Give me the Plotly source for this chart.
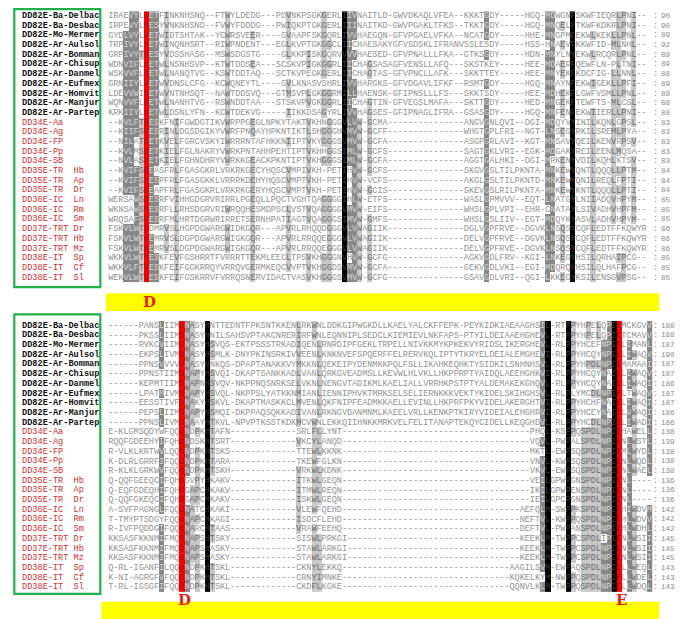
import plotly.graph_objects as go

# ---------------- data ----------------
names = ["DD82E-Ba-Delbac", "DD82E-Ba-Desbac", "DD82E-Mo-Mermer", "DD82E-Ar-Aulsol",
         "DD82E-Ar-Bomman", "DD82E-Ar-Chisup", "DD82E-Ar-Danmel", "DD82E-Ar-Eufmex",
         "DD82E-Ar-Homvit", "DD82E-Ar-Manjur", "DD82E-Ar-Partep",
         "DD34E-Aa", "DD34E-Ag", "DD34E-FP", "DD34E-Pp", "DD34E-SB",
         "DD35E-TR  Hb", "DD35E-TR  Ap", "DD35E-TR  Dr",
         "DD36E-IC  Ln", "DD36E-IC  Rm", "DD36E-IC  Sm",
         "DD37E-TRT Dr", "DD37E-TRT Hb", "DD37E-TRT Mz",
         "DD38E-IT  Sp", "DD38E-IT  Cf", "DD38E-IT  Sl"]
n_dd82e = 11  # first rows (DD82E group) printed in black

top_seqs = [
    "IRAEVYLDETFINKNHSNQ--FTWYLDEDG---PDVNKPSGKGERLIIVNAITLD-GWVDKAQLVFEA--KKKTGDY-----HGQ-MDWGNFSKWFIEQRLPNI--",
    "IRPEVYLDESYVNKNHSND--FVWYFDDDG---PWIQKPTGKGERLIIINAITKD-GWVPGAKLTFKS--TKKTGDY-----HGQ-MNQELFTKWFKDKRLPNI--",
    "GYDLVYLDETWIDTSHTAK--YCWRSVEER----GVAAPFSKGQRLIVVHAEGQN-GFVPGAELVFKA--NCATGDY-----HHE-MNGPMFEKWLKEKLLPNL--",
    "TRPIVYLDETWINQNHSRT--RIWPNDENT---EGLKVPTGKGGCLIICHAESAKYGFVSDSKLIFRANVSSLESDY-----HSS-HNAEVFKKWFID-MLNHL--",
    "GRPIVYTDESYVDSSHASG--MSWSDGSTG----GLKKPISKGQRVVVVHAESED-GFVPNALLLFKA--GTKSGDY-----HDN-MNYLNYEKWLRCQRLPNL--",
    "WDNVIFLDETWLNSNHSVP--KTWTDDSEA---SCSKVPIGKGGRLIICHAGSASAGFVENSLLAFQ---SKSTKEY-----HEE-MDAERFQEWFLN-PLTNI--",
    "WSKVVFLDETWLNANQTVG--KSWTDDTAQ---SCTKVPEGKGERLIICHAGTAS-GFVPNCLLAFK---SKKTTEY-----HEE-MNYEKFKDCFIG-LLNNL--",
    "GRNIIYLDETWVDNSLCFG--KCWQNEYTL----GVLKNASVSHRLIVVHARGKS-GFVDGAVLIFKF--RSMTGDY-----HGQ-MNAYNFEKWIGEKLLPFI--",
    "LDEVVWIDETWVNTNHSQT--NAWTDDSVQ---GTMSVPLGKGGRMILLHAENSK-GFIPNSLLLFS---SKKTSDY-----HEE-MDHEKFLGWFVSMLLPNL--",
    "WQNVVFLDETWLNANHTVG--RSWNDDTAA---STSKVPVGKGGRLIICHAGTIN-GFVEGSLMAFA---SKTTGDY-----HED-MNGEKFTEWFTS-MLCSL--",
    "KRKIIYLDETWLDSNLYFN--KCWTDEKVG-----IIKKDSAGYRLIVVHAGSES-GFIPNAGLIFRA--GSASGDY-----HGQ-MNFENFEKWIIERLLPNI--",
    "--KVLFTDESKFNIFGWDGTIKVWRPPGEGLNPKYTAKTVKHNGGGVLVW-GCMA---------------ANGVGNLQVI--DGI-MDQYVYINILKQNLGPSL--",
    "--KIIFSDESRINLDGSDGIKYVWRFPNQAYHPKNTIKTLSHGGGHVMVW-GCFF---------------WHGTGPLFRI--NGT-LNSEGYRKILSREMLPYA--",
    "--NILATDETKVELFGRCVSKYIWRRRNTAFHKKNIIPTVKYGGGSVMVW-GCFA---------------ASGPGRLAVI--KGT-MNSAVYQEILKENVRPSV--",
    "--KVLMSDETKIELFGLNAKRYVWRKPNTAHHPEHTIPTVKHHGGSIMLW-GCFS---------------SAGTGKLVRI--EGK-MDGAKYREILEENLMQSA--",
    "--NVLASDETKIELFGHNDHRYVWRKKGEACKPKNTIPTVKHGGGSIMLW-GCFA---------------AGGTGALHKI--DGI-MRKENYVDILKQHLKTSV--",
    "--KVIFSDEASFRLFGASGKRLVRKRKGECYHQSCVMPIVKH-PETIHVW-GCFS---------------SKGVGSLTILPKNTA-MNKEWYQNTLQQQLLPTM--",
    "--KVIFSDESPFRLFGASGKKLVRRRKDEHYHQSCVMPTVKH-PETIHVW-VCFS---------------AKGLGSLTILPKNTD-MNKEWYQNILREQLFPTI--",
    "--KVIFSDEAPFRLFGASGKRLVRKRKGERYHQSCVMPTVKH-PETIHVW-GCIS---------------SKEVGSLRILPKNTA-MNKEWYKNTLQQQLLPTI--",
    "WERSAWSDESRFVIHHGDGRVRIRRLPGEQLLPQCTVGHTQAGGGGIHLW-ETFS---------------WASLGPMVVV--EQT-LNATGYLNIIADQVHPYM--",
    "WKNSAWSDESRFLLRHSDGRVRIWRQQHESMDPSCLVSTVQAGGGGVMVW-EIFS---------------WHSLGPLVPI--EHR-CNATAYLSIVADHVHPFM--",
    "WRQSAFSDESRFMLHRTDGRWRIRRETSERNHPATIAGTVQAGGGSIMVW-GMFS---------------WHSLGSLIIV--EGT-MDQYKYASVLADHVHPYM--",
    "FSKVLWTDDMRVSLHGPDGWARGWIDKGQR---APVRLRHQQDGGGVLVWAGIIK---------------DGLVGPFRVE--DGVKLNSQSYCQFLEDTFFKQWYR",
    "FSKVLWTDEMRVSLDGPDGWARGWIGKGQR---APVRLRRQQEGGGVLVWAGIIK---------------DELVGPFRVE--DGVKLNSQSYCQFLEDTFFKQWYR",
    "FSKVLWTDEMRVSLDGPDGWARGWIGKGQR---APVRLRRQQEGGGVLVWAGIIK---------------DELVGPFRVE--DGVKLNSQSYCQFLEDTFFKQWYR",
    "WKKVLWTDESKFEVFGSHRRTFVRRRTTEKMLEECLTPSVKHGGGNVHVW-GCFG---------------AGKVGDLFRV--KGI-LNKEGYHSILQRHAIPCG--",
    "WKKVLFTDESKFEIFGGKRRQYVRRQVGERMKEQCVVPTVKHGGDSVMVW-GCFA---------------GEKVGDLVKI--EGI-MDQRQYHSILQLHAFPCG--",
    "WEKVLWTDESKFEIFGSKRRVFVRRQSNERVIDACTVASVKHGGGSVMVW-GCFG---------------GSAVGDLVRI--QGI-LKKEGYKSILENSGVPSG--",
]
top_ends = [90, 90, 89, 92, 89, 89, 88, 89, 89, 88, 88, 83, 83, 83, 83, 83,
            84, 84, 84, 85, 85, 85, 86, 86, 86, 85, 85, 85]

bottom_dd82e = [
    "------PANSLIIMDNASYHNTTEDNTFPKSNTKKENLRKWNLDDKGIPWGKDLLKAELYALCKFFEPK-PEYKIDKIAEAAGHSIL-RTPPYHPELQPIEMCKGVV",
    "------PKSSLIIMDNASYHNILSAHSVPTAKCNRERIRFWNLEQNNIPLSEDCLKIEMIEVLNKFAPS-PTYILDEIAAEHGHEVL-RTPPYHPELQPIETCMAVV",
    "------RVKCVIIMDNASYHSVQS-EKTPSSSTRKADIQENLRNRDIPFGEKLTRPELLNIVKKMYKPKEKVYRIDSLIKERGHEVL-RLPPYHCEFNPIELIMANL",
    "------EKPSLIVMDNASYHSMLK-DNYPKINSRKIVVEENLKNKNVEFSPQERFFELRERVKQLIPTYTKRYELDEIALEMGHEVI-RLPPYHCQYNPIELIWAQV",
    "------PPNSVVVVDNASYHNKQS-DPAPTANAKKVYMKKNLQEKEIPYDENMKKPQLFSLLIKAHKEQHKTYSIDKILSNHNHSVL-RLPPYHPDLNPIEMAMAAI",
    "------PPNSTIIMDNAPYHSVQI-DKAPTSANKKADLVANLQRKGVEADMSLLKEVWLHLVKLLHKPPRPTYAIDQLAEEHGHKVI-RLPPYHCQYNAIELIWAQV",
    "------KEPMTIIMDNAPNHSVQV-NKPPNQSNRKSELVKNLNENGVTADIKMLKAELIALLVRRHKPSTPTYALDEMAKEKGHQVL-RLPPYHCQYNAIELIWAQI",
    "------LPATMIVMDNAPYHSVQL-NKPPSLYATKKNMIANLIENNIPHVKTMRKSELSELIERNKKKVEKTYKIDELSKIHGHSVL-RLPLYMCDLNPIELTWAQV",
    "------EESSTIVFDNAKYHSKVL-DKAPTMASKKCLMVENLQKFNIPFEADMKKAELLEVINLLHKPRFPKYVIDELAKERGHTVI-RLPPYHCHFNAIELIWAQI",
    "------PEPSLIIMDNAPYHSMQI-DKPPAQSQKKADIVANLRKNGVDANMNMLKAEELVRLLKENKPTKIRYVIDEIALEHGHRVI-RLPPYHCEYNAIELVWAQI",
    "------PPNSLIVMDNAAYHTKVL-NPVPTKSSTKDKMCVWNLEKKQIIHNKKMRKVELFELITANAPTEKQYCIDELLKEQGHDVL-RLPPYHCDLNPIELIWADI",
]
# other families: (N-terminal part, short central block, C-terminal part)
bottom_left = ["E-KLGMSQDYWFQQDNDPKHTAFN", "RQQFGDEEHYIFQHDNDSKHTSRT", "R-VLKLKRTWVLQQDNDPKHTSKS",
               "K-DLRLGRRFIFQQDNDPKHTARA", "R-KLKLGRKWVFQQDNDPKHTSKH", "Q-QQFGEEQCIFQHDGVPYHKAKV",
               "Q-EQFGDEQHIFQHDGAPCHKAKV", "Q-QQFGKEQCIFQHDGAPCHKAKV", "A-SVFPAGNGLFQQDNATCHKAKI",
               "T-TMYPTSDGYFQQDNAPCHKAGI", "R-IVFPQDDGIFQQDNARCHTAAS", "KKSASFKKNMIFMQDNAPSHTSKY",
               "KKSASFKKNMIFMQDNAPSHASKY", "KKSASFKKNMIFMQDNAPSHASKY", "Q-RL-IGANFILQQDNDPKHTSKL",
               "K-NI-AGRGFVFQQDNDPKHTSKL", "T-RL-IGSGFIFQQDNDPKHTSKL"]
bottom_mid = ["SRLFLLYNT", "VKCYLANQD", "TTEWLKKNK", "TKEWFGLKN", "VRKWLKDNK", "ITKWLGEQN",
              "ITMWLREQN", "ISKWLGEQN", "VLEWFQEHD", "ISDCFLEHD", "VRAWFEEHQ", "SISWLPRKGI",
              "STAWLARKGI", "STAWLARKGI", "CKNYLEKKQ", "CRNYIMNKE", "CKDFLKGKE"]
bottom_right = ["PHQL-KSPPQSPDLNPIEHAWELL", "VQVL-PWPALSPDLNPIENLWSTL", "MKTL-EWPSQSPDLNPIEMLWYDL",
                "VNVL-KWPSQSPDLNPIENLWQDL", "VKVL-EWPSQSPDLNPIENLWAEL", "VEILGPWPGNSPDLNPIENL----",
                "IKILGPWPENSPDLNPIENL----", "IEILGPCPGNSPDLNPIENL----", "AEFQLM-SWPPKSPDLNPIEHIWDVM",
                "NEFTVL-KWPPQSPDLNPIEHLWDVV", "DEFTVL-PWPANSPDLNPIEHLWDHL", "KEEKLM-TWPPCSPDLIPIENLWSII",
                "KEEKLM-TWPPCSPDLNPIENLWSII", "KEEKLM-TWPPCSPDLNPIENLWSII", "AAGILSVM-EWPAQSPDLNPIELLWEQL",
                "KQKELKYM-NWPPQSPDLNPIELLWDEL", "QQNVLKLM-TWPPQSPDLNPIELLWDQL"]
bottom_mid_start = 37
bottom_ends = [188, 188, 187, 190, 187, 187, 186, 187, 187, 186, 186, 138, 139, 138, 138, 138,
               136, 136, 136, 142, 142, 142, 145, 145, 145, 143, 143, 143]

top_motif_cols = [7]
top_motif_labels = ["D"]
bottom_motif_cols = [14, 100]
bottom_motif_labels = ["D", "E"]

TOP_W = 106
BOT_W = 107

# ---------------- assemble ----------------
def norm(s, w):
    return s[:w].ljust(w, "-")

top_rows = [norm(s, TOP_W) for s in top_seqs]
bottom_rows = [norm(s, BOT_W) for s in bottom_dd82e]
for l, m, r in zip(bottom_left, bottom_mid, bottom_right):
    s = l.ljust(bottom_mid_start, "-") + m
    s = s + "-" * (BOT_W - len(s) - len(r)) + r
    bottom_rows.append(norm(s, BOT_W))

groups = ["DN", "EQ", "ST", "KR", "FYW", "LIVM"]


def grp(c):
    for g in groups:
        if c in g:
            return g
    return c


def shading(rows, motif_cols):
    """GeneDoc-like conservation shading: 100% black, >=80% dark grey, >=60% light grey."""
    n = len(rows)
    w = len(rows[0])
    z = [[0] * w for _ in range(n)]
    for j in range(w):
        col = [r[j] for r in rows]
        counts = {}
        for c in col:
            if c == "-":
                continue
            g = grp(c)
            counts[g] = counts.get(g, 0) + 1
        if counts:
            gb, cnt = max(counts.items(), key=lambda kv: kv[1])
            f = cnt / n
            lvl = 3 if f >= 0.999 else 2 if f >= 0.8 else 1 if f >= 0.6 else 0
            for i, c in enumerate(col):
                if c != "-" and grp(c) == gb:
                    z[i][j] = lvl
        if j in motif_cols:
            for i, c in enumerate(col):
                if c != "-":
                    z[i][j] = 4
    return z


# ---------------- geometry ----------------
# positions below are measured in page pixels; the page body adds an 8 px margin
OFF = 8
FW, FH = 683 - OFF, 619 - OFF
CW = 5.08            # character width
X0 = 110.8           # centre of first sequence column (page px)
ROWH = 9.69
TOP_Y0 = 16.0        # centre of first row, top block (page px)
BOT_Y0 = 325.7       # centre of first row, bottom block (page px)
NCOL = 110           # columns spanned by x axis


def fx(px):
    return (px - OFF) / FW


def fy(py):
    return 1 - (py - OFF) / FH


x_dom = [fx(X0 - CW / 2), min(1.0, fx(X0 - CW / 2 + NCOL * CW))]
nrow = len(names)

fig = go.Figure()

bg_scale = [[0.0, "#ffffff"], [0.2, "#ffffff"], [0.2, "#c8c8c8"], [0.4, "#c8c8c8"],
            [0.4, "#878787"], [0.6, "#878787"], [0.6, "#000000"], [0.8, "#000000"],
            [0.8, "#ff0000"], [1.0, "#ff0000"]]
txt_col = {0: "#939393", 1: "#6c6c6c", 2: "#d6d6d6", 3: "#3a3a3a", 4: "#c00000"}

blocks = [
    (top_rows, top_ends, top_motif_cols, top_motif_labels, "x", "y", TOP_Y0),
    (bottom_rows, bottom_ends, bottom_motif_cols, bottom_motif_labels, "x2", "y2", BOT_Y0),
]

annotations = []
for bi, (rows, ends, mcols, mlabels, xa, ya, y0) in enumerate(blocks):
    w = len(rows[0])
    z = shading(rows, mcols)
    fig.add_trace(go.Heatmap(z=z, x=list(range(w)), y=list(range(nrow)), zmin=0, zmax=4,
                             colorscale=bg_scale, showscale=False, hoverinfo="skip",
                             xaxis=xa, yaxis=ya))
    xs, ys, ts, cs = [], [], [], []
    for i, r in enumerate(rows):
        for j, ch in enumerate(r):
            xs.append(j)
            ys.append(i)
            ts.append(ch)
            cs.append(txt_col[z[i][j]])
    fig.add_trace(go.Scatter(x=xs, y=ys, text=ts, mode="text", hoverinfo="skip",
                             textfont=dict(family="Liberation Mono", size=8.6, color=cs),
                             xaxis=xa, yaxis=ya, cliponaxis=False))
    for k in range(nrow):
        # sequence names (left of the alignment)
        black = k < n_dd82e
        annotations.append(dict(x=fx(19.5), xref="paper", xanchor="left", y=k, yref=ya,
                                text=names[k].replace(" ", "\u00a0"), showarrow=False,
                                font=dict(family="Liberation Mono", size=8.6,
                                          color="#111111" if black else "#d03030",
                                          weight="bold" if black else "normal")))
        # colon + residue count
        annotations.append(dict(x=fx(655.5), xref="paper", xanchor="center", y=k, yref=ya,
                                text=":", showarrow=False, borderpad=0, borderwidth=0,
                                font=dict(family="Liberation Mono", size=8.6, color="#8c8c8c")))
        annotations.append(dict(x=fx(661.0), xref="paper", xanchor="left", y=k, yref=ya,
                                text=str(ends[k]), showarrow=False, borderpad=0, borderwidth=0,
                                font=dict(family="Liberation Mono", size=7.6, color="#8c8c8c")))
    # motif letters under the catalytic columns
    ycen = 301.7 if bi == 0 else 610.5
    for c, lab in zip(mcols, mlabels):
        annotations.append(dict(x=c, y=fy(ycen), xref=xa, yref="paper", text=lab,
                                showarrow=False, xshift=3.0,
                                font=dict(family="DejaVu Serif", size=15, color="#e8201a",
                                          weight="bold")))

ytop_dom = [fy(TOP_Y0 + (nrow - 0.5) * ROWH), fy(TOP_Y0 - 0.5 * ROWH)]
ybot_dom = [fy(BOT_Y0 + (nrow - 0.5) * ROWH), fy(BOT_Y0 - 0.5 * ROWH)]

ax_common = dict(visible=False, showgrid=False, zeroline=False, fixedrange=True)
fig.update_layout(
    width=FW, height=FH, margin=dict(l=0, r=0, t=0, b=0),
    paper_bgcolor="white", plot_bgcolor="white", showlegend=False,
    xaxis=dict(domain=x_dom, range=[-0.5, NCOL - 0.5], anchor="y", **ax_common),
    yaxis=dict(domain=ytop_dom, range=[nrow - 0.5, -0.5], anchor="x", **ax_common),
    xaxis2=dict(domain=x_dom, range=[-0.5, NCOL - 0.5], anchor="y2", **ax_common),
    yaxis2=dict(domain=ybot_dom, range=[nrow - 0.5, -0.5], anchor="x2", **ax_common),
    annotations=annotations,
)

shapes = []
# green frames around the names
for (y1, y2) in [(9.2, 287.2), (314.3, 593.8)]:
    shapes.append(dict(type="rect", xref="paper", yref="paper", x0=fx(14.3), x1=fx(100.3),
                       y0=fy(y2), y1=fy(y1), line=dict(color="#22b04b", width=2.2),
                       fillcolor="rgba(0,0,0,0)", layer="above"))
# yellow motif bars
for (xl, xr, y1, y2) in [(106.0, 659.3, 293.3, 311.0), (101.3, 659.3, 601.7, 619.0)]:
    shapes.append(dict(type="rect", xref="paper", yref="paper", x0=fx(xl), x1=fx(xr),
                       y0=fy(y2), y1=fy(y1), line=dict(width=0), fillcolor="#ffff00",
                       layer="below"))
fig.update_layout(shapes=shapes)

fig.write_html("out.html")
